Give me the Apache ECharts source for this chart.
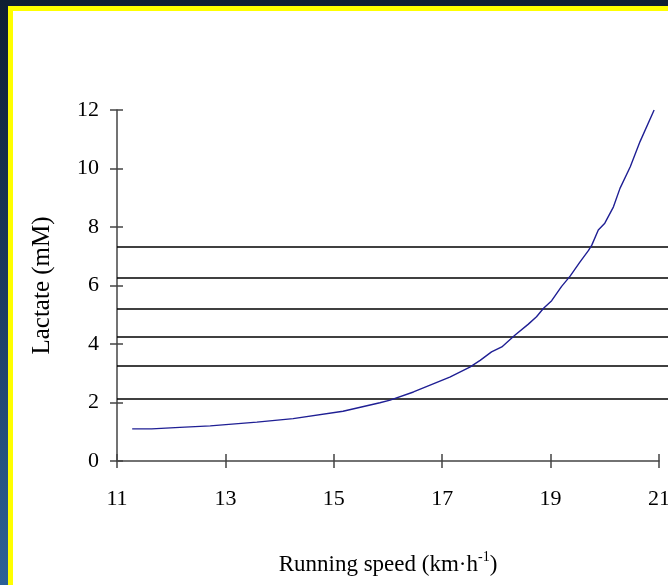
<!DOCTYPE html>
<html>
<head>
<meta charset="utf-8">
<script src="https://cdn.jsdelivr.net/npm/echarts@6/dist/echarts.min.js"></script>
<style>
html,body{margin:0;padding:0;width:668px;height:585px;overflow:hidden;}
body{background:linear-gradient(to bottom,#0f1e33 0%,#1c3b60 50%,#2d6197 100%);position:relative;}
#frame{position:absolute;left:8px;top:6px;right:0;bottom:0;background:#ffff00;}
#panel{position:absolute;left:13px;top:11px;right:0;bottom:0;background:#ffffff;}
#chart{position:absolute;left:0;top:0;width:668px;height:585px;}
</style>
</head>
<body>
<div id="frame"></div>
<div id="panel"></div>
<div id="chart"></div>
<script>
// Data
var speed = [11.28, 11.64, 12.16, 12.72, 13.58, 14.25, 15.17, 15.85, 16.04, 16.47, 17.14, 17.51, 17.7, 17.91, 18.1, 18.34, 18.59, 18.74, 18.87, 19.02, 19.2, 19.36, 19.54, 19.7, 19.76, 19.88, 20.0, 20.16, 20.28, 20.47, 20.65, 20.91];
var lactate = [1.10, 1.10, 1.15, 1.20, 1.33, 1.45, 1.70, 1.99, 2.08, 2.36, 2.87, 3.21, 3.44, 3.73, 3.90, 4.30, 4.68, 4.93, 5.22, 5.48, 5.96, 6.32, 6.80, 7.20, 7.38, 7.90, 8.13, 8.69, 9.32, 10.06, 10.92, 12.0];
var levels = [7.33, 6.25, 5.22, 4.26, 3.25, 2.14];
var xTicks = [11, 13, 15, 17, 19, 21];
var yTicks = [0, 2, 4, 6, 8, 10, 12];

var curve = speed.map(function (s, i) { return [s, lactate[i]]; });
var FONT = '"Liberation Serif", "DejaVu Serif", serif';
var axisColor = '#444444';

var chart = echarts.init(document.getElementById('chart'), null, {renderer: 'canvas'});
var gridBox = {left: 117, right: 9, top: 110, bottom: 124};
chart.setOption({
  backgroundColor: 'transparent',
  animation: false,
  grid: [
    {left: gridBox.left, right: gridBox.right, top: gridBox.top, bottom: gridBox.bottom, containLabel: false, outerBoundsMode: 'none'},
    {left: gridBox.left, right: 0, top: gridBox.top, bottom: gridBox.bottom, containLabel: false, outerBoundsMode: 'none'}
  ],
  xAxis: [
    {
      type: 'value', gridIndex: 0, min: xTicks[0], max: xTicks[xTicks.length - 1], interval: 2,
      name: '{a|Running speed (km·h}{s|-1}{a|)}', nameLocation: 'middle', nameGap: 89,
      nameTextStyle: {rich: {
        a: {fontFamily: FONT, fontSize: 23, color: '#000', lineHeight: 26, verticalAlign: 'bottom'},
        s: {fontFamily: FONT, fontSize: 14, color: '#000', lineHeight: 26, verticalAlign: 'top', padding: [0, 0, 12, 0]}
      }},
      axisLine: {show: true, lineStyle: {color: axisColor, width: 1.5}},
      axisTick: {show: true, length: 7, inside: false, lineStyle: {color: axisColor, width: 1.5}},
      axisLabel: {fontFamily: FONT, fontSize: 22, color: '#000', margin: 27, showMaxLabel: true},
      splitLine: {show: false}
    },
    {
      type: 'value', gridIndex: 0, min: xTicks[0], max: xTicks[xTicks.length - 1], interval: 2, position: 'bottom',
      axisLine: {show: false},
      axisTick: {show: true, length: 7, inside: true, lineStyle: {color: axisColor, width: 1.5}},
      axisLabel: {show: false}, splitLine: {show: false}
    },
    {type: 'value', gridIndex: 1, min: 0, max: 1, show: false}
  ],
  yAxis: [
    {
      type: 'value', gridIndex: 0, min: yTicks[0], max: yTicks[yTicks.length - 1], interval: 2,
      name: 'Lactate (mM)', nameLocation: 'middle', nameGap: 62,
      nameTextStyle: {fontFamily: FONT, fontSize: 25, color: '#000'},
      axisLine: {show: true, lineStyle: {color: axisColor, width: 1.5}},
      axisTick: {show: true, length: 7, inside: false, lineStyle: {color: axisColor, width: 1.5}},
      axisLabel: {fontFamily: FONT, fontSize: 22, color: '#000', margin: 18},
      splitLine: {show: false}
    },
    {
      type: 'value', gridIndex: 0, min: yTicks[0], max: yTicks[yTicks.length - 1], interval: 2, position: 'left',
      axisLine: {show: false},
      axisTick: {show: true, length: 6, inside: true, lineStyle: {color: axisColor, width: 1.5}},
      axisLabel: {show: false}, splitLine: {show: false}
    },
    {type: 'value', gridIndex: 1, min: yTicks[0], max: yTicks[yTicks.length - 1], show: false}
  ],
  series: [
    {
      type: 'line', xAxisIndex: 2, yAxisIndex: 2, data: [], silent: true,
      markLine: {
        silent: true, symbol: 'none', label: {show: false},
        lineStyle: {color: '#000000', width: 1.5, type: 'solid'},
        data: levels.map(function (v) { return {yAxis: v}; })
      }
    },
    {
      type: 'line', xAxisIndex: 0, yAxisIndex: 0, data: curve, showSymbol: false, smooth: false,
      lineStyle: {color: '#1f1f94', width: 1.4}, z: 5
    }
  ]
});
</script>
</body>
</html>
